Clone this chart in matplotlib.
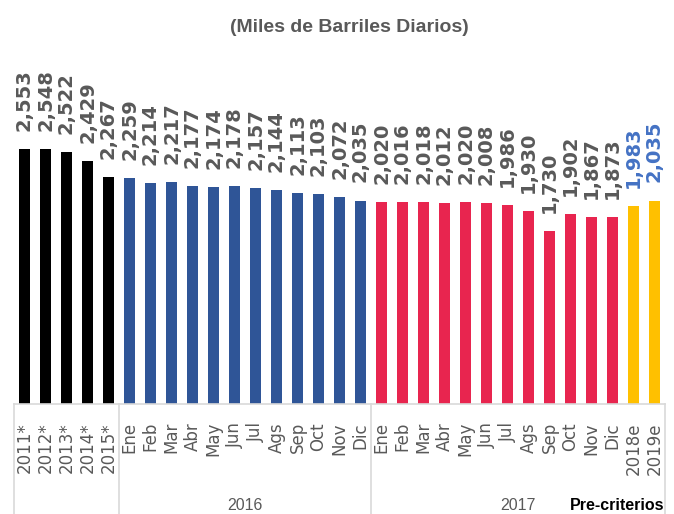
import matplotlib
matplotlib.use("Agg")
import matplotlib.pyplot as plt
from matplotlib import font_manager

# datos
categorias = ["2011*", "2012*", "2013*", "2014*", "2015*",
              "Ene", "Feb", "Mar", "Abr", "May", "Jun", "Jul", "Ags", "Sep", "Oct", "Nov", "Dic",
              "Ene", "Feb", "Mar", "Abr", "May", "Jun", "Jul", "Ags", "Sep", "Oct", "Nov", "Dic",
              "2018e", "2019e"]
anuales = [2553, 2548, 2522, 2429, 2267]
meses_2016 = [2259, 2214, 2217, 2177, 2174, 2178, 2157, 2144, 2113, 2103, 2072, 2035]
meses_2017 = [2020, 2016, 2018, 2012, 2020, 2008, 1986, 1930, 1730, 1902, 1867, 1873]
estimados = [1983, 2035]
grupos = ["2016", "2017"]

valores = anuales + meses_2016 + meses_2017 + estimados
colores = (["#000000"] * len(anuales) + ["#2F5597"] * len(meses_2016)
           + ["#E8254F"] * len(meses_2017) + ["#FFC000"] * len(estimados))
color_etiqueta = ["#595959"] * (len(valores) - len(estimados)) + ["#4472C4"] * len(estimados)

gris = "#595959"
disponibles = {f.name for f in font_manager.fontManager.ttflist}
estrecha = "Liberation Sans Narrow" in disponibles
fuente_estrecha = "Liberation Sans Narrow" if estrecha else "Liberation Sans"

W, H = 674, 514
fig = plt.figure(figsize=(W / 100, H / 100), dpi=100)
# eje: x de 14 a 665 px, cero en y=404 px, 0.1 px por unidad
x0, x1 = 14, 665
y_cero = 404
y_top = 20
ax = fig.add_axes([x0 / W, (H - y_cero) / H, (x1 - x0) / W, (y_cero - y_top) / H])
ymax = (y_cero - y_top) / 0.1

pos = list(range(len(valores)))
ax.bar(pos, valores, width=0.52, color=colores)
ax.set_xlim(-0.5, len(valores) - 0.5)
ax.set_ylim(0, ymax)

for x, v, c in zip(pos, valores, color_etiqueta):
    ax.annotate(f"{v:,}", (x, v), xytext=(0, 13), textcoords="offset points",
                rotation=90, ha="center", va="bottom", fontsize=14,
                fontweight="bold", color=c, family="DejaVu Sans")

ax.set_xticks(pos)
ax.set_xticklabels(categorias, rotation=90, fontsize=12, color=gris, va="top")
ax.tick_params(axis="x", length=0, pad=13)
ax.set_yticks([])
for s in ["left", "right", "top"]:
    ax.spines[s].set_visible(False)
ax.spines["bottom"].set_color("#D9D9D9")
ax.spines["bottom"].set_linewidth(1.2)

# separadores de grupos
for xs in [-0.5, len(anuales) - 0.5, len(anuales) + len(meses_2016) - 0.5, len(valores) - 0.5]:
    ax.plot([xs, xs], [0, -(y_cero / 0.1)], color="#D9D9D9", lw=1.2, clip_on=False)

# etiquetas de grupo
centro_2016 = len(anuales) + (len(meses_2016) - 1) / 2
centro_2017 = len(anuales) + len(meses_2016) + (len(meses_2017) + len(estimados) - 1) / 2
for centro, g in zip([centro_2016, centro_2017], grupos):
    xf = (x0 + (centro + 0.5) * (x1 - x0) / len(valores)) / W
    fig.text(xf, 9 / H, g, ha="center", va="center", fontsize=13 if estrecha else 11.5,
             color=gris, family=fuente_estrecha)

fig.text(664 / W, 8 / H, "Pre-criterios", ha="right", va="center",
         fontsize=13 if estrecha else 11.5, fontweight="bold", color="black",
         family=fuente_estrecha)

fig.text(349 / W, (H - 27) / H, "(Miles de Barriles Diarios)", ha="center", va="center",
         fontsize=16.5 if estrecha else 14, fontweight="bold", color=gris,
         family=fuente_estrecha)

fig.savefig("out.png", dpi=100)
